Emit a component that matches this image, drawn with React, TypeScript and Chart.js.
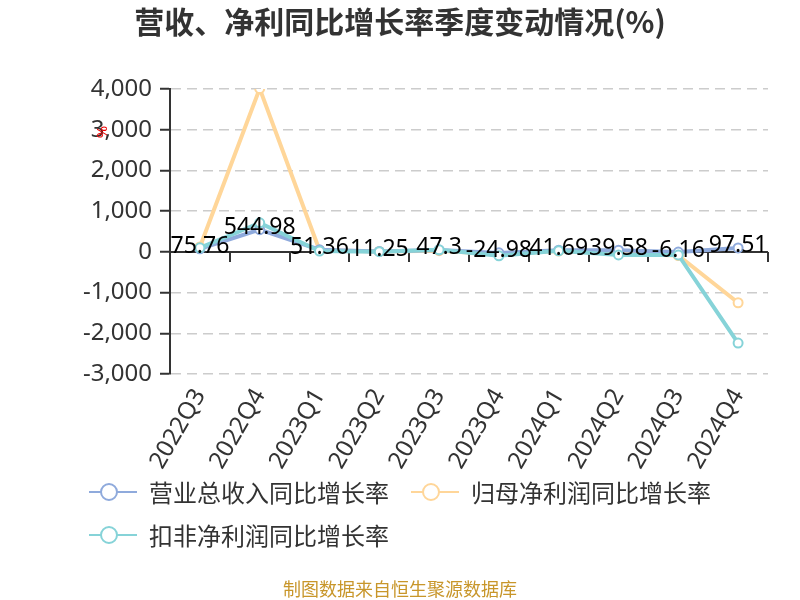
import { useEffect, useRef } from "react";
import { Chart, registerables } from "chart.js";

Chart.register(...registerables);

const categories = ["2022Q3", "2022Q4", "2023Q1", "2023Q2", "2023Q3", "2023Q4", "2024Q1", "2024Q2", "2024Q3", "2024Q4"];
const revenueGrowth = [75.76, 544.98, 51.36, 11.25, 47.3, -24.98, 41.69, 39.58, -6.16, 97.51];
const netProfitGrowth = [120, 4010, 40, 10, 30, -60, 20, -40, -90, -1250];
const deductedGrowth = [100, 712, 20, 5, 50, -98, 25, -75, -75, -2240];
const seriesNames = ["营业总收入同比增长率", "归母净利润同比增长率", "扣非净利润同比增长率"];
const seriesColors = ["#8faadc", "#ffd699", "#86d3d8"];
const yMin = -3000;
const yMax = 4000;
const yStep = 1000;
const titleText = "营收、净利同比增长率季度变动情况(%)";
const footerText = "制图数据来自恒生聚源数据库";
const unitText = "%";

const LATIN = "'Noto Sans', 'Noto Sans CJK SC', sans-serif";
const CJK = "'Noto Sans CJK SC', 'Noto Sans', sans-serif";

const zeroAxisPlugin = {
  id: "zeroAxis",
  beforeDatasetsDraw(chart: any) {
    const { ctx, chartArea, scales } = chart;
    const x = scales.x;
    const y = scales.y;
    const y0 = Math.round(y.getPixelForValue(0));
    ctx.save();
    ctx.strokeStyle = "#333";
    ctx.lineWidth = 2;
    ctx.beginPath();
    ctx.moveTo(chartArea.left, y0);
    ctx.lineTo(chartArea.right, y0);
    ctx.stroke();
    for (let i = 0; i < categories.length; i++) {
      const px = Math.round(x.getPixelForValue(i + 0.5));
      ctx.beginPath();
      ctx.moveTo(px, y0);
      ctx.lineTo(px, y0 + 10);
      ctx.stroke();
    }
    ctx.restore();
  },
};

const labelPlugin = {
  id: "valueLabels",
  afterDatasetsDraw(chart: any) {
    const { ctx } = chart;
    const meta = chart.getDatasetMeta(0);
    ctx.save();
    ctx.font = `23px ${LATIN}`;
    ctx.fillStyle = "#000";
    ctx.textAlign = "center";
    ctx.textBaseline = "middle";
    meta.data.forEach((pt: any, i: number) => {
      ctx.fillText(String(revenueGrowth[i]), pt.x, pt.y - 2);
    });
    ctx.restore();
  },
};

const decorPlugin = {
  id: "decor",
  afterDraw(chart: any) {
    const { ctx, width } = chart;
    ctx.save();
    // title
    ctx.font = `bold 30px ${CJK}`;
    ctx.fillStyle = "#333";
    ctx.textAlign = "center";
    ctx.textBaseline = "middle";
    ctx.fillText(titleText, width / 2, 22);

    // unit mark
    ctx.save();
    ctx.translate(103, 132);
    ctx.rotate(-Math.PI / 2);
    ctx.font = `15px ${LATIN}`;
    ctx.fillStyle = "#e00";
    ctx.textAlign = "center";
    ctx.textBaseline = "middle";
    ctx.fillText(unitText, 0, 0);
    ctx.restore();

    // legend
    ctx.font = `24px ${CJK}`;
    const symW = 48;
    const textGap = 12;
    const itemGap = 22;
    const maxRow = 660;
    const items = chart.data.datasets.map((ds: any, i: number) => ({
      label: ds.label,
      color: seriesColors[i],
      w: symW + textGap + ctx.measureText(ds.label).width,
    }));
    const rows: any[][] = [[]];
    let rowW = 0;
    items.forEach((it: any) => {
      const add = (rows[rows.length - 1].length ? itemGap : 0) + it.w;
      if (rowW + add > maxRow && rows[rows.length - 1].length) {
        rows.push([it]);
        rowW = it.w;
      } else {
        rows[rows.length - 1].push(it);
        rowW += add;
      }
    });
    const rowWidths = rows.map((r) => r.reduce((s, it, k) => s + it.w + (k ? itemGap : 0), 0));
    const boxW = Math.max(...rowWidths);
    const startX = (width - boxW) / 2;
    rows.forEach((r, ri) => {
      const cy = 492 + ri * 43;
      let cx = startX;
      r.forEach((it: any) => {
        ctx.strokeStyle = it.color;
        ctx.lineWidth = 2;
        ctx.beginPath();
        ctx.moveTo(cx, cy);
        ctx.lineTo(cx + symW, cy);
        ctx.stroke();
        ctx.beginPath();
        ctx.arc(cx + 20, cy, 8, 0, Math.PI * 2);
        ctx.fillStyle = "#fff";
        ctx.fill();
        ctx.stroke();
        ctx.fillStyle = "#333";
        ctx.textAlign = "left";
        ctx.textBaseline = "middle";
        ctx.fillText(it.label, cx + symW + textGap, cy + 1);
        cx += it.w + itemGap;
      });
    });

    // footer
    ctx.font = `18px ${CJK}`;
    ctx.fillStyle = "#c8962a";
    ctx.textAlign = "center";
    ctx.textBaseline = "middle";
    ctx.fillText(footerText, width / 2, 589);
    ctx.restore();
  },
};

export default function App() {
  const ref = useRef<HTMLCanvasElement>(null);
  useEffect(() => {
    document.body.style.margin = "0";
    const canvas = ref.current;
    if (!canvas) return;
    const series = [revenueGrowth, netProfitGrowth, deductedGrowth];
    const orders = [2, 3, 1];
    const chart = new Chart(canvas, {
      type: "line",
      data: {
        labels: categories,
        datasets: series.map((d, i) => ({
          label: seriesNames[i],
          data: d,
          borderColor: seriesColors[i],
          backgroundColor: "#fff",
          borderWidth: 4,
          pointRadius: 4.5,
          pointBorderWidth: 2,
          pointBackgroundColor: "#fff",
          pointBorderColor: seriesColors[i],
          tension: 0,
          order: orders[i],
        })),
      },
      options: {
        animation: false,
        responsive: false,
        events: [],
        layout: { padding: { left: 0, right: 32, top: 89, bottom: 0 } },
        plugins: {
          legend: { display: false },
          title: { display: false },
          tooltip: { enabled: false },
        },
        scales: {
          x: {
            type: "category",
            offset: true,
            grid: { display: false, drawTicks: false },
            border: { display: false },
            ticks: {
              minRotation: 60,
              maxRotation: 60,
              autoSkip: false,
              padding: 10,
              color: "#333",
              font: { size: 24, family: LATIN },
            },
            afterFit(scale: any) {
              scale.height = 226;
            },
          },
          y: {
            min: yMin,
            max: yMax,
            ticks: {
              stepSize: yStep,
              padding: 8,
              color: "#333",
              font: { size: 24, family: LATIN },
            },
            grid: {
              color: "#cccccc",
              lineWidth: 1.5,
              tickColor: "#333",
              tickLength: 10,
              tickWidth: 2,
              tickBorderDash: [],
            },
            border: { display: true, color: "#333", width: 2, dash: [10, 6] },
            afterFit(scale: any) {
              scale.width = 170;
            },
          },
        },
      },
      plugins: [zeroAxisPlugin, labelPlugin, decorPlugin],
    });
    return () => chart.destroy();
  }, []);
  return (
    <div style={{ width: 800, height: 600 }}>
      <canvas ref={ref} width={800} height={600} style={{ display: "block" }} />
    </div>
  );
}
